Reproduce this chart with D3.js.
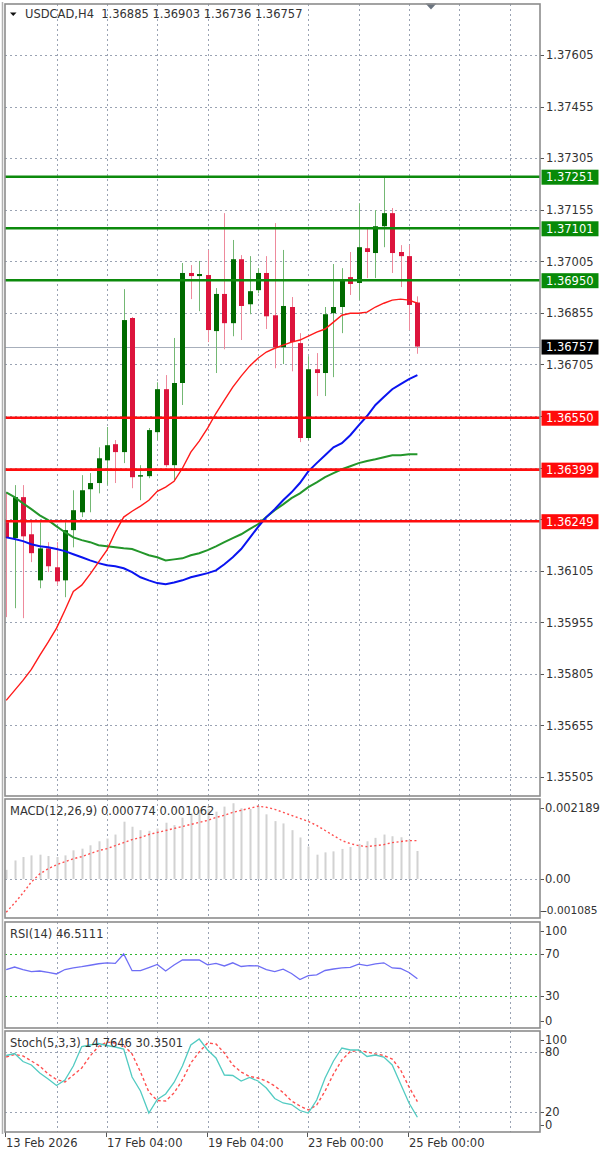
<!DOCTYPE html>
<html>
<head>
<meta charset="utf-8">
<script src="https://cdn.jsdelivr.net/npm/d3@7"></script>
<style>
    body { margin: 0; background: #fff; }
    svg text { font-family: "DejaVu Sans", sans-serif; font-size: 11.5px; fill: #333; }
</style>
</head>
<body>
<div id="chart"></div>
<script>

// candles (USDCAD H4)
const opens = [1.36246, 1.36200, 1.36319, 1.36211, 1.36077, 1.36170, 1.36115, 1.36077, 1.36223, 1.36275, 1.36342, 1.36360, 1.36426, 1.36473, 1.36450, 1.36840, 1.36380, 1.36380, 1.36508, 1.36633, 1.36412, 1.36651, 1.36971, 1.36962, 1.36965, 1.36802, 1.36910, 1.36825, 1.37011, 1.36880, 1.36921, 1.36971, 1.36848, 1.36755, 1.36872, 1.36767, 1.36491, 1.36691, 1.36680, 1.36854, 1.36872, 1.36959, 1.36942, 1.37043, 1.37029, 1.37107, 1.37145, 1.37032, 1.37020, 1.36885];
const highs = [1.36333, 1.36354, 1.36354, 1.36246, 1.36246, 1.36188, 1.36188, 1.36246, 1.36339, 1.36383, 1.36389, 1.36464, 1.36523, 1.36485, 1.36924, 1.36843, 1.36412, 1.36520, 1.36653, 1.36674, 1.36782, 1.37000, 1.36994, 1.37006, 1.37038, 1.36927, 1.37145, 1.37067, 1.37023, 1.37020, 1.36985, 1.37020, 1.37116, 1.37038, 1.36901, 1.36796, 1.36729, 1.36738, 1.36872, 1.36997, 1.36985, 1.37032, 1.37174, 1.37102, 1.37154, 1.37251, 1.37160, 1.37052, 1.37052, 1.36903];
const lows = [1.35970, 1.35996, 1.35967, 1.36130, 1.36054, 1.36101, 1.36063, 1.36028, 1.36173, 1.36261, 1.36275, 1.36330, 1.36354, 1.36360, 1.36418, 1.36345, 1.36310, 1.36374, 1.36485, 1.36406, 1.36368, 1.36587, 1.36895, 1.36860, 1.36770, 1.36680, 1.36749, 1.36787, 1.36776, 1.36851, 1.36912, 1.36808, 1.36694, 1.36706, 1.36685, 1.36479, 1.36485, 1.36613, 1.36613, 1.36668, 1.36796, 1.36907, 1.36892, 1.36956, 1.36956, 1.37046, 1.36971, 1.36930, 1.36805, 1.36736];
const closes = [1.36200, 1.36319, 1.36205, 1.36156, 1.36170, 1.36118, 1.36074, 1.36223, 1.36281, 1.36339, 1.36360, 1.36432, 1.36470, 1.36450, 1.36834, 1.36377, 1.36383, 1.36514, 1.36633, 1.36412, 1.36651, 1.36971, 1.36962, 1.36968, 1.36805, 1.36910, 1.36825, 1.37011, 1.36875, 1.36918, 1.36971, 1.36845, 1.36755, 1.36875, 1.36770, 1.36491, 1.36691, 1.36680, 1.36851, 1.36872, 1.36950, 1.36939, 1.37046, 1.37032, 1.37107, 1.37145, 1.37029, 1.37020, 1.36878, 1.36757];

// moving averages
const maRed = [1.35728, 1.35757, 1.35786, 1.35818, 1.35859, 1.35897, 1.35938, 1.35990, 1.36045, 1.36063, 1.36095, 1.36130, 1.36165, 1.36217, 1.36261, 1.36278, 1.36293, 1.36310, 1.36336, 1.36348, 1.36365, 1.36403, 1.36450, 1.36482, 1.36520, 1.36563, 1.36601, 1.36639, 1.36671, 1.36700, 1.36723, 1.36741, 1.36752, 1.36761, 1.36770, 1.36776, 1.36787, 1.36799, 1.36808, 1.36828, 1.36848, 1.36854, 1.36854, 1.36857, 1.36872, 1.36883, 1.36892, 1.36895, 1.36892, 1.36883];
const maBlue = [1.36202, 1.36197, 1.36191, 1.36182, 1.36176, 1.36173, 1.36168, 1.36162, 1.36153, 1.36144, 1.36135, 1.36127, 1.36121, 1.36118, 1.36112, 1.36101, 1.36086, 1.36077, 1.36069, 1.36066, 1.36071, 1.36077, 1.36086, 1.36092, 1.36098, 1.36106, 1.36124, 1.36144, 1.36168, 1.36200, 1.36232, 1.36261, 1.36284, 1.36310, 1.36333, 1.36360, 1.36394, 1.36418, 1.36441, 1.36464, 1.36476, 1.36499, 1.36528, 1.36555, 1.36587, 1.36610, 1.36633, 1.36648, 1.36662, 1.36674];
const maGreen = [1.36333, 1.36319, 1.36301, 1.36284, 1.36266, 1.36252, 1.36234, 1.36217, 1.36202, 1.36194, 1.36188, 1.36179, 1.36176, 1.36173, 1.36170, 1.36168, 1.36159, 1.36150, 1.36144, 1.36135, 1.36138, 1.36141, 1.36150, 1.36156, 1.36165, 1.36176, 1.36188, 1.36200, 1.36211, 1.36226, 1.36240, 1.36261, 1.36281, 1.36298, 1.36316, 1.36330, 1.36348, 1.36362, 1.36377, 1.36389, 1.36400, 1.36409, 1.36418, 1.36424, 1.36429, 1.36435, 1.36441, 1.36441, 1.36444, 1.36444];

// indicators
const macdHist = [0.000252, 0.000512, 0.000607, 0.000652, 0.000672, 0.000635, 0.000607, 0.000652, 0.000792, 0.000839, 0.000932, 0.001044, 0.001119, 0.001231, 0.001587, 0.001447, 0.001352, 0.001335, 0.001399, 0.001559, 0.001492, 0.001699, 0.001819, 0.001911, 0.001939, 0.001866, 0.002006, 0.002099, 0.001959, 0.001939, 0.002023, 0.001791, 0.001603, 0.001539, 0.001352, 0.001150, 0.000900, 0.000672, 0.000736, 0.000764, 0.000831, 0.000887, 0.000971, 0.001044, 0.001139, 0.001231, 0.001184, 0.001156, 0.001091, 0.000774];
const macdSignal = [-0.000923, -0.000672, -0.000392, -0.000084, 0.000140, 0.000280, 0.000392, 0.000476, 0.000560, 0.000616, 0.000700, 0.000784, 0.000839, 0.000923, 0.001007, 0.001091, 0.001147, 0.001231, 0.001287, 0.001343, 0.001399, 0.001455, 0.001511, 0.001567, 0.001623, 0.001707, 0.001763, 0.001847, 0.001903, 0.001959, 0.002015, 0.001987, 0.001931, 0.001847, 0.001763, 0.001679, 0.001595, 0.001483, 0.001343, 0.001203, 0.001063, 0.000979, 0.000923, 0.000895, 0.000923, 0.000951, 0.001007, 0.001035, 0.001063, 0.001062];
const rsi = [55.2, 57.6, 55.2, 53.3, 53.8, 52.4, 51.0, 55.2, 56.7, 57.9, 59.3, 60.7, 61.6, 61.1, 70.0, 54.1, 54.1, 57.1, 60.0, 53.8, 59.5, 64.3, 64.3, 64.3, 59.7, 61.1, 58.6, 61.6, 58.1, 59.0, 58.6, 55.2, 53.3, 55.5, 51.4, 45.7, 49.4, 50.2, 54.3, 55.7, 56.7, 57.3, 60.3, 59.0, 60.5, 61.6, 56.7, 56.2, 52.4, 46.5111];
const stochMain = [76.5, 78.5, 70.5, 67, 59, 53, 46.5, 52, 66, 85.5, 87, 88.5, 86.5, 85, 83, 55, 41, 19, 32.5, 38, 49.5, 66, 87, 93, 82, 74, 57, 56.5, 51, 54.5, 51, 44, 33.5, 29, 27.5, 21.5, 19, 32, 54, 71, 84, 82, 82, 75.5, 77, 75, 67, 48, 29, 14.7646];
const stochSignal = [75, 77.5, 76, 71, 66, 58, 52.5, 50, 57, 64, 76, 85.5, 90, 89, 86.5, 78, 60, 40, 31.5, 31, 39, 52, 69, 80, 89, 88, 79, 67, 60, 55.5, 54, 51, 46, 39.5, 31, 26, 22, 27, 41, 58, 72, 80.5, 81.5, 80, 78, 76.5, 73, 62, 45, 30.3501];

// axis + level lines
const priceTicks = [1.37605, 1.37455, 1.37305, 1.37155, 1.37005, 1.36855, 1.36705, 1.36555, 1.36405, 1.36255, 1.36105, 1.35955, 1.35805, 1.35655, 1.35505];
const greenLevels = [1.37251, 1.37101, 1.36950];
const redLevels = [1.36550, 1.36399, 1.36249];
const bidPrice = 1.36757;
const macdTicks = [0.002189, 0, -0.001085];
const macdTickLabels = ['0.002189', '0.00', '-0.001085'];
const rsiTicks = [100, 70, 30, 0];
const stochTicks = [100, 80, 20, 0];
const dateIdx = [0, 12, 24, 36, 48];
const dateLabels = ['13 Feb 2026', '17 Feb 04:00', '19 Feb 04:00', '23 Feb 00:00', '25 Feb 00:00'];
const gridIdx = [6, 12, 18, 24, 30, 36, 42, 48, 54, 60];


class MtChart {

    constructor(parentElement){
        this.parentElement = parentElement;
        this.initVis();
    }

    initVis() {
        let vis = this;

        vis.left = 5;
        vis.right = 540;
        vis.panels = {
            main: {top: 4, bottom: 796},
            macd: {top: 799, bottom: 918},
            rsi: {top: 922, bottom: 1028},
            stoch: {top: 1031, bottom: 1132}
        };

        vis.svg = d3.select("#" + vis.parentElement).append("svg")
            .attr("width", 600)
            .attr("height", 1155);

        vis.svg.append('rect').attr('width', 600).attr('height', 1155).attr('fill', '#fff');

        // bar index -> x
        vis.x = d3.scaleLinear().domain([0, 49]).range([6.2, 417.4]);

        vis.y = d3.scaleLinear().domain([1.35505, 1.37605]).range([777, 55]);
        vis.yMacd = d3.scaleLinear().domain([-0.001085, 0.002189]).range([918, 800]);
        vis.yRsi = d3.scaleLinear().domain([0, 100]).range([1027.5, 922.5]);
        vis.yStoch = d3.scaleLinear().domain([0, 100]).range([1132, 1032]);

        let defs = vis.svg.append('defs');
        Object.keys(vis.panels).forEach(k => {
            let p = vis.panels[k];
            defs.append('clipPath').attr('id', 'clip-' + k)
                .append('rect')
                .attr('x', vis.left).attr('y', p.top)
                .attr('width', vis.right - vis.left).attr('height', p.bottom - p.top);
        });

        vis.drawGrid();
        vis.drawMain();
        vis.drawMacd();
        vis.drawRsi();
        vis.drawStoch();
        vis.drawFrames();
    }

    drawGrid() {
        let vis = this;

        // vertical dotted grid through every panel
        Object.keys(vis.panels).forEach(k => {
            let p = vis.panels[k];
            vis.svg.append('g')
                .selectAll('line')
                .data(gridIdx)
                .enter().append('line')
                .attr('x1', d => Math.round(vis.x(d)) + 0.5)
                .attr('x2', d => Math.round(vis.x(d)) + 0.5)
                .attr('y1', p.top)
                .attr('y2', p.bottom)
                .attr('stroke', '#9aa3b3')
                .attr('stroke-dasharray', '2,3');
        });

        vis.svg.append('g')
            .selectAll('line')
            .data(priceTicks)
            .enter().append('line')
            .attr('x1', vis.left)
            .attr('x2', vis.right)
            .attr('y1', d => Math.round(vis.y(d)) + 0.5)
            .attr('y2', d => Math.round(vis.y(d)) + 0.5)
            .attr('stroke', '#9aa3b3')
            .attr('stroke-dasharray', '2,3');
    }

    drawMain() {
        let vis = this;
        let g = vis.svg.append('g').attr('clip-path', 'url(#clip-main)');

        let bars = d3.range(opens.length);

        // grey bid line
        g.append('line')
            .attr('x1', vis.left).attr('x2', vis.right)
            .attr('y1', Math.round(vis.y(bidPrice)) + 0.5)
            .attr('y2', Math.round(vis.y(bidPrice)) + 0.5)
            .attr('stroke', '#a7afbb')
            .attr('stroke-width', 1);

        // wicks
        g.selectAll('.wick')
            .data(bars)
            .enter().append('line')
            .attr('class', 'wick')
            .attr('x1', i => Math.round(vis.x(i)) + 0.5)
            .attr('x2', i => Math.round(vis.x(i)) + 0.5)
            .attr('y1', i => vis.y(highs[i]))
            .attr('y2', i => vis.y(lows[i]))
            .attr('stroke', i => closes[i] >= opens[i] ? '#74b874' : '#ee8a9c')
            .attr('stroke-width', 1);

        // bodies
        g.selectAll('.body')
            .data(bars)
            .enter().append('rect')
            .attr('class', 'body')
            .attr('x', i => Math.round(vis.x(i)) - 2)
            .attr('width', 5)
            .attr('y', i => vis.y(Math.max(opens[i], closes[i])))
            .attr('height', i => Math.max(1.5, Math.abs(vis.y(opens[i]) - vis.y(closes[i]))))
            .attr('fill', i => closes[i] >= opens[i] ? '#006a00' : '#dc143c');

        // moving averages
        let maLine = arr => d3.line()
            .x((d, i) => vis.x(i))
            .y(d => vis.y(d))(arr);

        g.append('path').attr('d', maLine(maGreen))
            .attr('fill', 'none').attr('stroke', '#23962a').attr('stroke-width', 2);
        g.append('path').attr('d', maLine(maBlue))
            .attr('fill', 'none').attr('stroke', '#0a14f0').attr('stroke-width', 2);
        g.append('path').attr('d', maLine(maRed))
            .attr('fill', 'none').attr('stroke', '#ff1a1a').attr('stroke-width', 1.4);

        // horizontal levels
        g.selectAll('.glevel')
            .data(greenLevels)
            .enter().append('line')
            .attr('x1', vis.left).attr('x2', vis.right)
            .attr('y1', d => vis.y(d)).attr('y2', d => vis.y(d))
            .attr('stroke', '#0c8a0c')
            .attr('stroke-width', 2.6);

        g.selectAll('.rlevel')
            .data(redLevels)
            .enter().append('line')
            .attr('x1', vis.left).attr('x2', vis.right)
            .attr('y1', d => vis.y(d)).attr('y2', d => vis.y(d))
            .attr('stroke', '#ff0d0d')
            .attr('stroke-width', 2.6);

        // colored price boxes
        let boxes = greenLevels.map(v => ({v: v, c: '#088a08'}))
            .concat(redLevels.map(v => ({v: v, c: '#ff0a0a'})))
            .concat([{v: bidPrice, c: '#000'}]);

        // price axis (labels under a box are not shown, as in the terminal)
        let visibleTicks = priceTicks.filter(t => boxes.every(b => Math.abs(vis.y(t) - vis.y(b.v)) > 12));
        let ax = vis.svg.append('g');
        ax.selectAll('line')
            .data(priceTicks)
            .enter().append('line')
            .attr('x1', vis.right).attr('x2', vis.right + 4)
            .attr('y1', d => Math.round(vis.y(d)) + 0.5)
            .attr('y2', d => Math.round(vis.y(d)) + 0.5)
            .attr('stroke', '#555');
        ax.selectAll('text')
            .data(visibleTicks)
            .enter().append('text')
            .attr('x', 546)
            .attr('y', d => vis.y(d))
            .attr('dy', '0.37em')
            .text(d => d.toFixed(5));

        let bx = vis.svg.append('g').selectAll('g')
            .data(boxes)
            .enter().append('g');
        bx.append('rect')
            .attr('x', 541.5)
            .attr('y', d => vis.y(d.v) - 7)
            .attr('width', 57)
            .attr('height', 15)
            .attr('fill', d => d.c);
        bx.append('text')
            .attr('x', 546)
            .attr('y', d => vis.y(d.v) + 0.5)
            .attr('dy', '0.37em')
            .style('fill', '#fff')
            .text(d => d.v.toFixed(5));

        // title
        vis.svg.append('path')
            .attr('d', 'M10,12.5 L16.5,12.5 L13.25,16 Z')
            .attr('fill', '#111');
        vis.svg.append('text')
            .attr('x', 25)
            .attr('y', 18)
            .attr('xml:space', 'preserve')
            .style('white-space', 'pre')
            .text('USDCAD,H4  ' + [opens[49], highs[49], lows[49], closes[49]].map(d => d.toFixed(5)).join(' '));

        // chart shift marker
        vis.svg.append('path')
            .attr('d', 'M425.5,3.5 L436.5,3.5 L431,9.5 Z')
            .attr('fill', '#6b7480');
    }

    drawMacd() {
        let vis = this;
        let p = vis.panels.macd;
        let g = vis.svg.append('g').attr('clip-path', 'url(#clip-macd)');

        g.append('line')
            .attr('x1', vis.left).attr('x2', vis.right)
            .attr('y1', Math.round(vis.yMacd(0)) + 0.5)
            .attr('y2', Math.round(vis.yMacd(0)) + 0.5)
            .attr('stroke', '#9aa3b3')
            .attr('stroke-dasharray', '2,3');

        g.selectAll('.hist')
            .data(macdHist)
            .enter().append('rect')
            .attr('x', (d, i) => Math.round(vis.x(i)) - 0.5)
            .attr('width', 2)
            .attr('y', d => vis.yMacd(Math.max(0, d)))
            .attr('height', d => Math.abs(vis.yMacd(d) - vis.yMacd(0)))
            .attr('fill', '#d2d2d2');

        g.append('path')
            .attr('d', d3.line().x((d, i) => vis.x(i)).y(d => vis.yMacd(d))(macdSignal))
            .attr('fill', 'none')
            .attr('stroke', '#ff5050')
            .attr('stroke-width', 1.4)
            .attr('stroke-dasharray', '2,2.5');

        vis.svg.append('text')
            .attr('x', 10).attr('y', 815)
            .text('MACD(12,26,9) ' + macdHist[49].toFixed(6) + ' ' + macdSignal[49].toFixed(6));

        vis.axisLabels(macdTicks.map((v, i) => ({y: vis.yMacd(v), t: macdTickLabels[i]})), p);
    }

    drawRsi() {
        let vis = this;
        let p = vis.panels.rsi;
        let g = vis.svg.append('g').attr('clip-path', 'url(#clip-rsi)');

        g.selectAll('.lvl')
            .data([70, 30])
            .enter().append('line')
            .attr('x1', vis.left).attr('x2', vis.right)
            .attr('y1', d => Math.round(vis.yRsi(d)) + 0.5)
            .attr('y2', d => Math.round(vis.yRsi(d)) + 0.5)
            .attr('stroke', '#2fb52f')
            .attr('stroke-width', 1.2)
            .attr('stroke-dasharray', '2,3');

        g.append('path')
            .attr('d', d3.line().x((d, i) => vis.x(i)).y(d => vis.yRsi(d))(rsi))
            .attr('fill', 'none')
            .attr('stroke', '#6e6ef5')
            .attr('stroke-width', 1.3);

        vis.svg.append('text')
            .attr('x', 10).attr('y', 938)
            .text('RSI(14) ' + rsi[49].toFixed(4));

        vis.axisLabels(rsiTicks.map(v => ({y: vis.yRsi(v), t: String(v)})), p);
    }

    drawStoch() {
        let vis = this;
        let p = vis.panels.stoch;
        let g = vis.svg.append('g').attr('clip-path', 'url(#clip-stoch)');

        g.selectAll('.lvl')
            .data([80, 20])
            .enter().append('line')
            .attr('x1', vis.left).attr('x2', vis.right)
            .attr('y1', d => Math.round(vis.yStoch(d)) + 0.5)
            .attr('y2', d => Math.round(vis.yStoch(d)) + 0.5)
            .attr('stroke', '#9aa3b3')
            .attr('stroke-dasharray', '2,3');

        g.append('path')
            .attr('d', d3.line().x((d, i) => vis.x(i)).y(d => vis.yStoch(d))(stochSignal))
            .attr('fill', 'none')
            .attr('stroke', '#ff5050')
            .attr('stroke-width', 1.4)
            .attr('stroke-dasharray', '3,2.5');

        g.append('path')
            .attr('d', d3.line().x((d, i) => vis.x(i)).y(d => vis.yStoch(d))(stochMain))
            .attr('fill', 'none')
            .attr('stroke', '#52cbc2')
            .attr('stroke-width', 1.3);

        vis.svg.append('text')
            .attr('x', 10).attr('y', 1047)
            .text('Stoch(5,3,3) ' + stochMain[49].toFixed(4) + ' ' + stochSignal[49].toFixed(4));

        vis.axisLabels(stochTicks.map(v => ({y: vis.yStoch(v), t: String(v)})), p);

        // date axis
        let dg = vis.svg.append('g');
        dg.selectAll('line')
            .data(dateIdx)
            .enter().append('line')
            .attr('x1', d => Math.round(vis.x(d)) - 0.5)
            .attr('x2', d => Math.round(vis.x(d)) - 0.5)
            .attr('y1', p.bottom)
            .attr('y2', p.bottom + 5)
            .attr('stroke', '#555');
        dg.selectAll('text')
            .data(dateIdx)
            .enter().append('text')
            .attr('x', d => Math.round(vis.x(d)))
            .attr('y', 1147)
            .text((d, i) => dateLabels[i]);
    }

    axisLabels(items, p) {
        let vis = this;
        let g = vis.svg.append('g');
        items.forEach(it => {
            let yy = Math.max(p.top + 9, Math.min(p.bottom - 7.5, it.y));
            g.append('line')
                .attr('x1', vis.right).attr('x2', vis.right + 4)
                .attr('y1', Math.round(yy) + 0.5).attr('y2', Math.round(yy) + 0.5)
                .attr('stroke', '#555');
            // long labels are shrunk a little so they stay inside the window
            let t = g.append('text')
                .attr('x', it.t.length > 8 ? 543 : 545)
                .attr('y', yy)
                .attr('dy', '0.37em')
                .text(it.t);
            if (it.t.length > 8) t.style('font-size', '10.6px');
        });
    }

    drawFrames() {
        let vis = this;
        Object.keys(vis.panels).forEach(k => {
            let p = vis.panels[k];
            vis.svg.append('rect')
                .attr('x', vis.left).attr('y', p.top)
                .attr('width', vis.right - vis.left)
                .attr('height', p.bottom - p.top)
                .attr('fill', 'none')
                .attr('stroke', '#8c8c8c')
                .attr('stroke-width', 1.6);
        });
        // outer left edge
        vis.svg.append('line')
            .attr('x1', 2.5).attr('x2', 2.5)
            .attr('y1', 2).attr('y2', 1134)
            .attr('stroke', '#b0b0b0')
            .attr('stroke-width', 1.5);
    }
}

new MtChart('chart');

</script>
</body>
</html>
